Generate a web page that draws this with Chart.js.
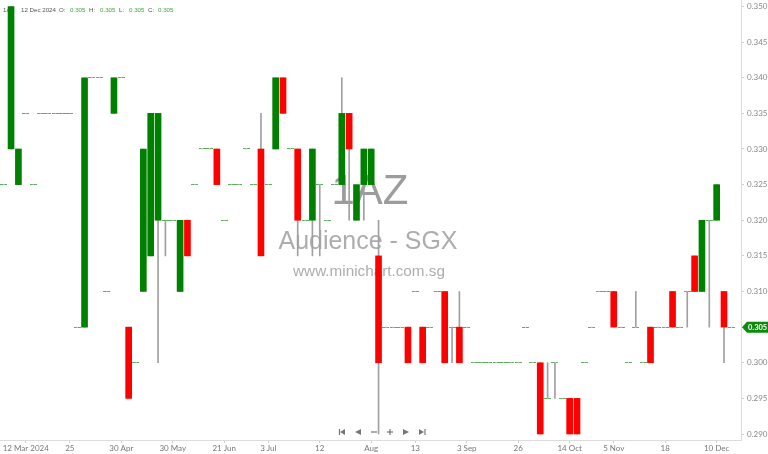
<!DOCTYPE html>
<html>
<head>
<meta charset="utf-8">
<script src="https://cdn.jsdelivr.net/npm/chart.js@4.4.1/dist/chart.umd.min.js"></script>
<style>
  html, body { margin: 0; padding: 0; background: #fff; }
  #wrap { width: 768px; height: 454px; }
</style>
</head>
<body>
<div id="wrap"><canvas id="chart"></canvas></div>
<script>
// one entry per bar slot, left to right
const opens = [
  0.325,0.330,0.325,0.335,0.325,0.335,0.335,0.335,0.335,0.335,
  0.305,0.305,0.340,0.340,0.310,0.335,0.340,0.305,0.300,0.310,
  0.315,0.320,0.320,0.320,0.310,0.320,0.325,0.330,0.330,0.330,
  0.320,0.325,0.325,0.330,0.325,0.330,0.325,0.330,0.340,0.330,
  0.330,0.320,0.320,0.325,0.320,0.325,0.325,0.335,0.320,0.325,
  0.325,0.315,0.305,0.305,0.305,0.305,0.310,0.305,0.305,0.310,
  0.310,0.305,0.305,0.305,0.300,0.300,0.300,0.300,0.300,0.300,
  0.300,0.305,0.300,0.300,0.295,0.300,0.295,0.295,0.295,0.300,
  0.305,0.310,0.310,0.310,0.305,0.300,0.305,0.300,0.305,0.305,
  0.305,0.310,0.305,0.310,0.315,0.310,0.320,0.320,0.310,0.305
];
const highs = [
  0.325,0.350,0.330,0.335,0.325,0.335,0.335,0.335,0.335,0.335,
  0.305,0.340,0.340,0.340,0.310,0.340,0.340,0.305,0.300,0.330,
  0.335,0.335,0.320,0.320,0.320,0.320,0.325,0.330,0.330,0.330,
  0.320,0.325,0.325,0.330,0.325,0.335,0.325,0.340,0.340,0.330,
  0.330,0.320,0.330,0.325,0.320,0.325,0.340,0.335,0.325,0.330,
  0.330,0.320,0.305,0.305,0.305,0.305,0.310,0.305,0.305,0.310,
  0.310,0.305,0.310,0.305,0.300,0.300,0.300,0.300,0.300,0.300,
  0.300,0.305,0.300,0.300,0.300,0.300,0.295,0.295,0.295,0.300,
  0.305,0.310,0.310,0.310,0.305,0.300,0.310,0.300,0.305,0.305,
  0.305,0.310,0.305,0.310,0.315,0.320,0.320,0.325,0.310,0.305
];
const lows = [
  0.325,0.330,0.325,0.335,0.325,0.335,0.335,0.335,0.335,0.335,
  0.305,0.305,0.340,0.340,0.310,0.335,0.340,0.295,0.300,0.310,
  0.315,0.300,0.315,0.320,0.310,0.315,0.325,0.330,0.330,0.325,
  0.320,0.325,0.325,0.330,0.325,0.315,0.325,0.330,0.335,0.330,
  0.315,0.320,0.315,0.315,0.320,0.325,0.325,0.320,0.320,0.320,
  0.325,0.290,0.305,0.305,0.305,0.300,0.310,0.300,0.305,0.310,
  0.300,0.300,0.300,0.305,0.300,0.300,0.300,0.300,0.300,0.300,
  0.300,0.305,0.300,0.290,0.295,0.295,0.295,0.290,0.290,0.300,
  0.305,0.310,0.310,0.305,0.305,0.300,0.305,0.300,0.300,0.305,
  0.305,0.305,0.305,0.305,0.310,0.310,0.305,0.320,0.300,0.305
];
const closes = [
  0.325,0.350,0.330,0.335,0.325,0.335,0.335,0.335,0.335,0.335,
  0.305,0.340,0.340,0.340,0.310,0.340,0.340,0.295,0.300,0.330,
  0.335,0.335,0.320,0.320,0.320,0.315,0.325,0.330,0.330,0.325,
  0.320,0.325,0.325,0.330,0.325,0.315,0.325,0.340,0.335,0.330,
  0.320,0.320,0.330,0.325,0.320,0.325,0.335,0.330,0.325,0.330,
  0.330,0.300,0.305,0.305,0.305,0.300,0.310,0.300,0.305,0.310,
  0.300,0.305,0.300,0.305,0.300,0.300,0.300,0.300,0.300,0.300,
  0.300,0.305,0.300,0.290,0.295,0.300,0.295,0.290,0.290,0.300,
  0.305,0.310,0.310,0.305,0.305,0.300,0.305,0.300,0.300,0.305,
  0.305,0.305,0.305,0.310,0.310,0.320,0.320,0.325,0.305,0.305
];

const tickPos  = [3, 9, 16, 23, 30, 36, 43, 50, 56, 63, 70, 77, 83, 90, 97];
const tickText = ['12 Mar 2024','25','30 Apr','30 May','21 Jun','3 Jul','12','Aug','13','3 Sep','26','14 Oct','5 Nov','18','10 Dec'];
const yTicks = [0.290,0.295,0.300,0.305,0.310,0.315,0.320,0.325,0.330,0.335,0.340,0.345,0.350];

const symbol = '1AZ';
const company = 'Audience - SGX';
const site = 'www.minichart.com.sg';
const lastDate = '12 Dec 2024';

const UP = '#008000', DOWN = '#ff0000', FLAT = '#5cb05c', WICK = '#a0a0a0';

const bodies = [], wicks = [], flats = [];
opens.forEach((o, i) => {
  const c = closes[i];
  wicks.push({ x: i, y: [lows[i], highs[i]] });
  if (o === c) flats.push({ x: i, y: c });
  else bodies.push({ x: i, y: [o, c] });
});

// small broken dash used for bars where open == close
const dash = document.createElement('canvas');
dash.width = 7; dash.height = 1;
const dctx = dash.getContext('2d');
dctx.fillStyle = FLAT;
dctx.fillRect(0, 0, 3, 1);
dctx.fillRect(4, 0, 3, 1);

function fitFont(ctx, text, width, family) {
  ctx.font = '40px ' + family;
  const size = 40 * width / ctx.measureText(text).width;
  ctx.font = size.toFixed(2) + 'px ' + family;
  return size;
}

const overlay = {
  id: 'overlay',
  beforeDatasetsDraw(chart) {
    const ctx = chart.ctx;
    ctx.save();
    // watermark
    ctx.textAlign = 'center';
    ctx.textBaseline = 'middle';
    const fam = '"Liberation Sans", Arial, sans-serif';
    ctx.fillStyle = '#9c9c9c';
    fitFont(ctx, symbol, 77, fam);
    ctx.fillText(symbol, 370, 192);
    ctx.fillStyle = '#adadad';
    fitFont(ctx, company, 179, fam);
    ctx.fillText(company, 368, 242);
    fitFont(ctx, site, 152, fam);
    ctx.fillText(site, 369, 272);

    // header line
    ctx.textAlign = 'left';
    fitFont(ctx, lastDate, 35, '"Liberation Sans", sans-serif');
    const last = closes.length - 1;
    const f = v => v.toFixed(3);
    const parts = [
      [symbol, 3, '#555'], [lastDate, 21, '#555'],
      ['O:', 59, '#555'], [f(opens[last]), 70, '#3ea83e'],
      ['H:', 89, '#555'], [f(highs[last]), 100, '#3ea83e'],
      ['L:', 119, '#555'], [f(lows[last]), 129, '#3ea83e'],
      ['C:', 148, '#555'], [f(closes[last]), 158, '#3ea83e']
    ];
    parts.forEach(([t, x, col]) => { ctx.fillStyle = col; ctx.fillText(t, x, 10); });
    ctx.restore();
  },
  afterDraw(chart) {
    const ctx = chart.ctx;
    const ys = chart.scales.y;
    ctx.save();
    // last price tag
    const last = closes[closes.length - 1];
    const py = ys.getPixelForValue(last);
    const x0 = chart.chartArea.right + 1;
    ctx.fillStyle = '#0b8a0b';
    ctx.beginPath();
    ctx.moveTo(x0, py);
    ctx.lineTo(x0 + 5, py - 5.5);
    ctx.lineTo(768, py - 5.5);
    ctx.lineTo(768, py + 5.5);
    ctx.lineTo(x0 + 5, py + 5.5);
    ctx.closePath();
    ctx.fill();
    ctx.fillStyle = '#fff';
    ctx.font = 'bold 7.5px Lato, sans-serif';
    ctx.textBaseline = 'middle';
    ctx.textAlign = 'left';
    ctx.fillText(last.toFixed(3), x0 + 6, py + 0.5);

    // navigation icons
    const y = 432;
    ctx.fillStyle = '#777';
    ctx.strokeStyle = '#777';
    ctx.lineWidth = 1.2;
    const tri = (pts) => { ctx.beginPath(); ctx.moveTo(pts[0], pts[1]); ctx.lineTo(pts[2], pts[3]); ctx.lineTo(pts[4], pts[5]); ctx.closePath(); ctx.fill(); };
    const line = (a, b, c, d) => { ctx.beginPath(); ctx.moveTo(a, b); ctx.lineTo(c, d); ctx.stroke(); };
    line(339.5, y - 3, 339.5, y + 3); tri([340, y, 345, y - 3, 345, y + 3]);
    tri([355, y, 361, y - 3, 361, y + 3]);
    line(371, y, 377, y);
    line(387, y, 393, y); line(390, y - 3, 390, y + 3);
    tri([403, y - 3, 403, y + 3, 409, y]);
    tri([419, y - 3, 419, y + 3, 424, y]); line(425, y - 3, 425, y + 3);
    ctx.restore();
  }
};

new Chart(document.getElementById('chart'), {
  type: 'bar',
  data: {
    datasets: [
      { type: 'scatter', data: flats, pointStyle: dash, radius: 3.5, hoverRadius: 3.5,
        borderColor: FLAT, backgroundColor: FLAT, borderWidth: 1, order: 1, clip: false },
      { data: bodies, grouped: false, barThickness: 6, borderWidth: 0, order: 2,
        backgroundColor: c => (c.raw && c.raw.y[1] > c.raw.y[0]) ? UP : DOWN },
      { data: wicks, grouped: false, barThickness: 1, borderWidth: 0, order: 3,
        backgroundColor: WICK }
    ]
  },
  options: {
    responsive: true,
    maintainAspectRatio: false,
    animation: false,
    layout: { padding: 0, autoPadding: false },
    plugins: { legend: { display: false }, tooltip: { enabled: false } },
    scales: {
      x: {
        type: 'linear',
        min: -0.5034,
        max: 100.313,
        offset: false,
        grid: { drawOnChartArea: false, tickLength: 3, color: '#cfcfcf', offset: false },
        border: { color: '#dcdcdc' },
        ticks: {
          autoSkip: false, maxRotation: 0, padding: 1, color: '#777',
          font: { size: 8, family: 'Lato, sans-serif' },
          callback: (v, i) => tickText[i]
        },
        afterBuildTicks: s => { s.ticks = tickPos.map(v => ({ value: v })); },
        afterFit: s => { s.height = 14; s.paddingLeft = 0; s.paddingRight = 0; }
      },
      y: {
        position: 'right',
        min: 0.289158,
        max: 0.350912,
        grid: { drawOnChartArea: false, tickLength: 3, color: '#cfcfcf' },
        border: { color: '#dcdcdc' },
        ticks: {
          padding: 3, color: '#888',
          font: { size: 8, family: 'Lato, sans-serif' },
          callback: v => v.toFixed(3)
        },
        afterBuildTicks: s => { s.ticks = yTicks.map(v => ({ value: v })); },
        afterFit: s => { s.width = 27; s.paddingTop = 0; s.paddingBottom = 0; }
      }
    }
  },
  plugins: [overlay]
});
</script>
</body>
</html>
